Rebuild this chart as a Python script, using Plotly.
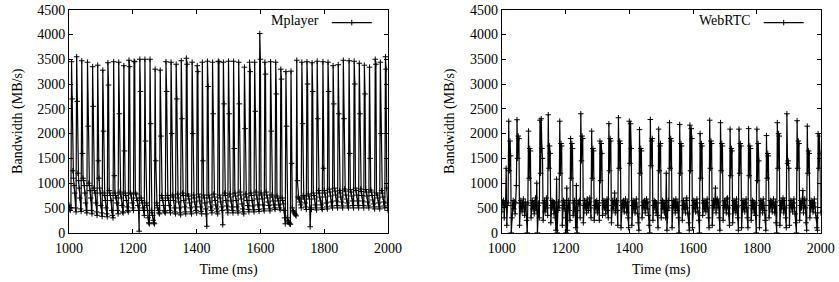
import plotly.graph_objects as go

# ---- data: sampled every 2 ms from 1000 ms ----
t_start = 1000
t_step = 2

mplayer_bw = [
    560, 480, 450, 500,
    3450, 2700, 1250, 1100, 950, 800, 500, 420,
    3550, 2650, 1200, 1050, 900, 700, 480, 430,
    3470, 1600, 1100, 1050, 950, 800, 600, 450, 400,
    3440, 2150, 1000, 950, 850, 700, 450, 380,
    3350, 2550, 900, 850, 800, 600, 420, 350,
    3380, 1450, 1100, 900, 800, 550, 400, 330,
    3280, 2050, 800, 750, 650, 500, 380, 320,
    3430, 2980, 850, 800, 750, 650, 450, 350, 300,
    3450, 1150, 800, 750, 700, 600, 450, 380,
    3440, 2400, 820, 780, 700, 550, 420, 400,
    3370, 1650, 800, 750, 650, 520, 450, 420,
    3480, 3350, 800, 780, 700, 600, 500, 450,
    3460, 3450, 800, 780, 700, 650, 550, 450, 30,
    3500, 2850, 700, 650, 600, 500, 450, 350,
    3500, 1850, 600, 550, 450, 300, 200, 180,
    3500, 2200, 450, 400, 350, 250, 200, 180,
    3300, 1450, 600, 550, 500, 450, 400, 380,
    3280, 1950, 750, 700, 650, 550, 450, 420, 400,
    3450, 2850, 750, 700, 650, 550, 450, 400,
    3440, 2000, 760, 720, 650, 500, 420, 380,
    3400, 2700, 780, 700, 620, 500, 400, 360,
    3470, 2300, 800, 750, 650, 520, 420, 380,
    3520, 3400, 780, 740, 680, 600, 500, 420, 380,
    3440, 2000, 760, 700, 620, 520, 450, 400,
    3370, 3250, 780, 720, 640, 520, 430, 380,
    3440, 1450, 760, 700, 600, 480, 380, 130,
    3460, 2950, 760, 700, 620, 520, 450, 400,
    3440, 2400, 780, 720, 650, 560, 480, 420, 380,
    3460, 3450, 760, 700, 620, 520, 450, 160,
    3440, 2600, 800, 750, 650, 540, 460, 400,
    3460, 2400, 780, 720, 640, 520, 450, 400,
    3460, 1700, 800, 740, 650, 520, 440, 400,
    3440, 2600, 820, 760, 680, 580, 480, 420, 380,
    3340, 2100, 780, 720, 650, 550, 470, 420,
    3440, 3250, 800, 750, 650, 540, 460, 420,
    3440, 2450, 820, 760, 680, 560, 470, 430,
    4020, 3500, 800, 760, 680, 560, 480, 440,
    3440, 3200, 820, 760, 700, 620, 550, 480, 440,
    3450, 2050, 760, 720, 640, 560, 500, 470,
    3440, 2800, 740, 700, 640, 560, 500, 460,
    3300, 3100, 700, 650, 580, 450, 300, 180,
    3250, 2150, 300, 250, 220, 200, 180, 170,
    3260, 1400, 500, 450, 420, 400, 380, 360, 340,
    3480, 1050, 720, 700, 680, 620, 560, 500,
    3440, 2200, 750, 720, 680, 600, 520, 470,
    3450, 3000, 780, 740, 680, 120, 500, 470,
    3430, 2850, 800, 750, 680, 560, 500, 460,
    3460, 2300, 850, 800, 720, 640, 560, 500, 470,
    3450, 1300, 850, 800, 720, 600, 520, 480,
    3440, 2850, 880, 820, 740, 620, 540, 500,
    3370, 2600, 900, 840, 760, 640, 550, 500,
    3390, 2400, 850, 800, 720, 620, 540, 500,
    3480, 2300, 880, 840, 760, 680, 600, 540, 500,
    3470, 1600, 870, 820, 740, 640, 550, 500,
    3460, 3000, 900, 850, 760, 640, 550, 500,
    3420, 2400, 880, 830, 750, 640, 550, 500,
    3380, 2800, 870, 820, 740, 620, 540, 500,
    3340, 1500, 860, 820, 750, 660, 580, 520, 480,
    3500, 3400, 800, 760, 700, 600, 520, 480,
    3440, 2000, 850, 800, 720, 620, 540, 500,
    3550, 3300, 900, 600, 450,
]

webrtc_bw = [
    420, 620, 580, 650, 300, 600, 550,
    1300, 150, 550, 600,
    2250, 1250, 1850, 1550, 0, 300,
    550, 650, 480, 620, 380, 600, 950,
    2280, 1500, 1950, 1900, 150, 600,
    650, 520, 420, 600, 680, 500, 350, 620, 560, 250, 0, 600,
    2050, 1100, 1700, 1650, 300, 550,
    650, 480, 600, 380, 620, 700, 450,
    1000, 0, 550, 600, 300,
    2270, 1200, 2300, 1700, 1500, 250, 600,
    650, 420, 580, 700, 500, 350,
    2380, 1300, 1750, 1600, 200, 550,
    650, 500, 620, 380, 600, 300, 50,
    1080, 0, 450, 620, 500,
    2250, 1200, 1800, 1750, 150, 550,
    650, 480, 620, 300, 0,
    900, 50, 500, 650, 450, 250,
    1900, 1100, 1800, 1700, 350, 600,
    650, 420, 100,
    950, 0, 450, 620, 580, 650, 300,
    2400, 1450, 1950, 1900, 200, 550,
    650, 500, 600, 400, 680, 550, 450, 620, 700, 500, 300,
    2050, 1100, 1700, 1650, 250, 550,
    620, 480, 650, 400, 600, 550, 250,
    1850, 1050, 1800, 1600, 350, 600,
    650, 500, 620, 380, 600, 680, 450, 300,
    2200, 1250, 1900, 1850, 200, 550,
    650, 480, 600, 800, 400, 620, 650, 450, 150,
    2320, 1300, 1850, 1800, 100, 550,
    620, 500, 650, 420, 600, 680, 550, 400, 620, 300, 100,
    2250, 1400, 2200, 1700, 150, 550,
    650, 480, 620, 400, 600, 680, 520, 380, 200, 50,
    2080, 1200, 1700, 1650, 300, 550,
    620, 500, 650, 400, 600, 680, 480, 620, 350, 150, 0,
    2285, 1350, 1850, 1900, 250, 550,
    650, 500, 620, 400, 600, 350, 100,
    2090, 1250, 1750, 1800, 300, 600,
    650, 480, 620, 400, 600, 300,
    1200, 50, 450, 650, 500,
    2220, 1300, 1900, 1850, 100, 550,
    650, 500, 620, 400, 680, 550, 450, 620, 300, 0,
    2185, 1200, 1800, 1750, 250, 550,
    650, 480, 600, 400, 650, 700, 500, 380, 200, 50,
    2170, 1250, 2100, 1900, 100, 550,
    650, 500, 620, 420, 600, 680, 500, 400, 250, 0,
    2000, 1100, 1800, 1750, 350, 600,
    650, 480, 620, 420, 600, 680, 500, 300, 100,
    2270, 1300, 1850, 1800, 150, 550,
    650, 500, 620, 900, 400, 650, 680, 500, 620, 300, 50,
    2220, 1250, 1800, 1750, 250, 550,
    650, 500, 620, 400, 680, 700, 500, 380, 150,
    2090, 1150, 1700, 1650, 200, 550,
    650, 480, 620, 400, 680, 520, 300, 50,
    2090, 1200, 1800, 1750, 100, 550,
    650, 500, 620, 420, 600, 680, 500, 300, 100,
    2100, 1150, 1750, 1700, 250, 550,
    650, 480, 620, 400, 600, 350, 0,
    2090, 1050, 1800, 1450, 100, 550,
    650, 500, 620, 400, 680, 550, 450, 250, 50,
    1960, 1100, 1600, 1550, 300, 550,
    650, 500, 620, 420, 600, 680, 520, 400, 620, 200, 0,
    2220, 1300, 2000, 1950, 150, 550,
    650, 480, 620, 700, 400, 650, 500, 300, 100,
    2400, 1400, 1450, 1300, 150, 550,
    650, 500, 620, 420, 600, 680, 500, 380, 200, 0,
    2260, 1300, 1850, 1800, 250, 550,
    650, 500, 620, 850, 400, 650, 680, 500, 200, 50,
    2150, 1200, 1650, 1600, 300, 550,
    650, 500, 620, 420, 600, 680, 520, 400, 300, 100, 50,
    2000, 1300, 1950, 1600, 400,
]

mplayer_t = [t_start + t_step * i for i in range(len(mplayer_bw))]
webrtc_t = [t_start + t_step * i for i in range(len(webrtc_bw))]

x_ticks = [1000, 1200, 1400, 1600, 1800, 2000]
y_ticks = [0, 500, 1000, 1500, 2000, 2500, 3000, 3500, 4000, 4500]

FONT = "Liberation Serif, Times New Roman, serif"
W, H = 839, 282


def px_x(p):
    return p / W


def px_y(p):
    return (H - p) / H


line_style = dict(color="black", width=1.2)
marker_style = dict(symbol="cross-thin", size=4, color="black",
                    line=dict(color="black", width=1))

fig = go.Figure()
fig.add_trace(go.Scatter(x=mplayer_t, y=mplayer_bw, mode="lines+markers",
                         name=" ", line=line_style, marker=marker_style,
                         xaxis="x", yaxis="y", legend="legend"))
fig.add_trace(go.Scatter(x=webrtc_t, y=webrtc_bw, mode="lines+markers",
                         name=" ", line=line_style, marker=marker_style,
                         xaxis="x2", yaxis="y2", legend="legend2"))

ax_common = dict(showline=True, linecolor="black", linewidth=1, mirror="allticks",
                 ticks="inside", ticklen=4, tickcolor="black", showgrid=False,
                 zeroline=False, automargin=False,
                 tickfont=dict(family=FONT, size=14, color="black"))

xax = dict(ax_common, range=[1000, 2000], tickvals=x_ticks, ticklabelstandoff=2,
           title=dict(text="Time (ms)", font=dict(family=FONT, size=14, color="black"), standoff=9))
yax = dict(ax_common, range=[0, 4500], tickvals=y_ticks, domain=[px_y(232.7), px_y(9.7)],
           title=dict(text="Bandwidth (MB/s)", font=dict(family=FONT, size=14, color="black"), standoff=11))

fig.update_layout(
    width=W, height=H, margin=dict(l=0, r=0, t=0, b=0, autoexpand=False),
    paper_bgcolor="white", plot_bgcolor="white",
    xaxis=dict(xax, domain=[px_x(69), px_x(388)], anchor="y"),
    yaxis=dict(yax, anchor="x"),
    xaxis2=dict(xax, domain=[px_x(501.7), px_x(820.7)], anchor="y2"),
    yaxis2=dict(yax, anchor="x2"),
    legend=dict(x=px_x(386), y=px_y(7), xanchor="right", yanchor="top",
                bgcolor="rgba(0,0,0,0)", borderwidth=0, itemwidth=40,
                font=dict(family=FONT, size=14, color="black"),
                title=dict(text="Mplayer", side="left",
                           font=dict(family=FONT, size=14, color="black"))),
    legend2=dict(x=px_x(818), y=px_y(7), xanchor="right", yanchor="top",
                 bgcolor="rgba(0,0,0,0)", borderwidth=0, itemwidth=40,
                 font=dict(family=FONT, size=14, color="black"),
                 title=dict(text="WebRTC", side="left",
                            font=dict(family=FONT, size=14, color="black"))),
    showlegend=True,
    hovermode=False,
)

# remove the browser's default 8px body margin so the figure sits at the page origin
fig.write_html("out.html", config={"displayModeBar": False},
               post_script="document.body.style.margin='0';")
